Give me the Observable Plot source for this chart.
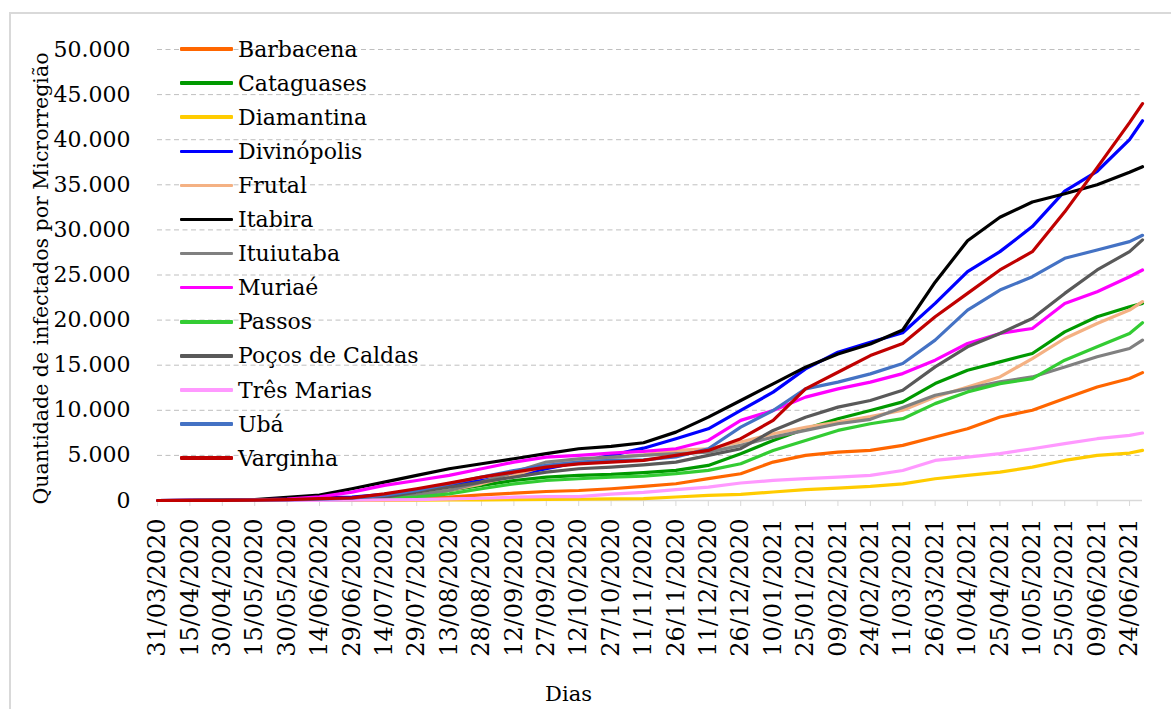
<!DOCTYPE html>
<html>
<head>
<meta charset="utf-8">
<script src="https://cdn.jsdelivr.net/npm/d3@7"></script>
<script src="https://cdn.jsdelivr.net/npm/@observablehq/plot@0.6"></script>
<style>
  html, body { margin: 0; padding: 0; background: #fff; }
  body { width: 1171px; height: 709px; overflow: hidden; font-family: "DejaVu Serif", serif; color: #000; }
  #wrap { position: relative; width: 1171px; height: 709px; }
  #frame { position: absolute; left: 9px; top: 12px; width: 1200px; height: 800px; border-left: 2px solid #D9D9D9; border-top: 2px solid #D9D9D9; box-sizing: border-box; }
  #chart { position: absolute; left: 0; top: 0; }
  #legend { position: absolute; left: 0; top: 0; }
  .item { position: absolute; left: 180px; height: 30px; display: flex; align-items: center; white-space: nowrap; font-size: 22px; }
  .swatch { width: 53px; height: 3.5px; margin-right: 5px; border-radius: 1px; }
</style>
</head>
<body>
<div id="wrap">
  <div id="frame"></div>
  <div id="chart"></div>
  <div id="legend"></div>
</div>
<script>
// ---- data ----
const sampleDates = ["2020-03-31","2020-04-15","2020-04-30","2020-05-15","2020-05-30","2020-06-14","2020-06-29","2020-07-14","2020-07-29","2020-08-13","2020-08-28","2020-09-12","2020-09-27","2020-10-12","2020-10-27","2020-11-11","2020-11-26","2020-12-11","2020-12-26","2021-01-10","2021-01-25","2021-02-09","2021-02-24","2021-03-11","2021-03-26","2021-04-10","2021-04-25","2021-05-10","2021-05-25","2021-06-09","2021-06-24","2021-06-30"];

const seriesNames = ["Barbacena","Cataguases","Diamantina","Divinópolis","Frutal","Itabira","Ituiutaba","Muriaé","Passos","Poços de Caldas","Três Marias","Ubá","Varginha"];
const seriesColors = ["#FF6600","#009900","#FFCC00","#0000FF","#F4B183","#000000","#808080","#FF00FF","#33CC33","#595959","#FF99FF","#4472C4","#C00000"];

const barbacena   = [0,0,0,5,10,30,80,150,250,370,630,810,1000,1110,1300,1560,1860,2420,2970,4260,5000,5370,5550,6110,7040,7960,9260,10000,11300,12590,13520,14180];
const cataguases  = [0,0,5,10,30,60,150,300,560,1110,1670,2220,2590,2780,2890,3100,3340,3890,5190,6660,7950,9060,9980,10930,12960,14440,15370,16300,18700,20370,21480,21850];
const diamantina  = [0,0,0,0,0,5,10,20,40,60,80,100,120,140,170,200,390,570,680,940,1200,1380,1570,1850,2410,2780,3150,3700,4440,5000,5260,5560];
const divinopolis = [0,10,20,50,150,300,370,670,1110,1670,2220,2780,3520,4260,5000,5800,6850,7950,9980,12010,14590,16440,17550,18600,21850,25370,27590,30370,34300,36500,40000,42100];
const frutal      = [0,0,5,10,30,60,150,300,560,1110,1850,2780,3890,4440,4740,5050,5550,5740,6480,7400,8100,8700,9300,10000,11480,12590,13700,15740,17960,19630,21110,22040];
const itabira     = [0,10,40,100,350,600,1300,2040,2780,3520,4070,4630,5190,5740,6000,6400,7580,9240,11090,12930,14780,16250,17360,18900,24200,28800,31400,33100,34000,35000,36400,37000];
const ituiutaba   = [0,0,5,10,30,60,150,300,560,1110,2040,3150,4260,4630,4810,5000,5190,5370,6110,7030,7770,8510,9000,10300,11670,12410,13150,13700,14810,15930,16850,17780];
const muriae      = [0,5,20,60,150,400,930,1670,2220,2780,3520,4260,4810,5000,5250,5450,5740,6660,8880,9980,11460,12380,13120,14070,15560,17410,18520,19070,21850,23150,24810,25550];
const passos      = [0,0,0,5,10,30,80,200,370,740,1300,1850,2220,2410,2590,2700,2970,3340,4080,5550,6660,7770,8510,9070,10740,12040,12960,13520,15560,17040,18520,19700];
const pocos       = [0,0,5,20,50,100,200,370,930,1480,2040,2590,3150,3520,3700,3950,4260,5000,5740,7770,9240,10350,11090,12220,14810,17040,18520,20180,22960,25560,27590,28900];
const tresMarias  = [0,0,0,0,5,10,30,60,100,190,250,370,420,440,700,900,1200,1490,1940,2230,2420,2600,2790,3330,4440,4810,5190,5740,6300,6850,7220,7480];
const uba         = [0,5,15,30,80,150,250,560,1110,1850,2590,3330,3890,4260,4440,4500,4820,5740,8140,9980,12380,13120,14040,15190,17780,21110,23330,24810,26850,27780,28700,29400];
const varginha    = [0,5,15,40,100,200,300,740,1300,1930,2590,3150,3700,4070,4260,4450,5000,5550,6850,8880,12380,14220,16070,17410,20370,22960,25560,27590,32000,36900,41900,44000];

const seriesValues = [barbacena,cataguases,diamantina,divinopolis,frutal,itabira,ituiutaba,muriae,passos,pocos,tresMarias,uba,varginha];

const xTickLabels = ["31/03/2020","15/04/2020","30/04/2020","15/05/2020","30/05/2020","14/06/2020","29/06/2020","14/07/2020","29/07/2020","13/08/2020","28/08/2020","12/09/2020","27/09/2020","12/10/2020","27/10/2020","11/11/2020","26/11/2020","11/12/2020","26/12/2020","10/01/2021","25/01/2021","09/02/2021","24/02/2021","11/03/2021","26/03/2021","10/04/2021","25/04/2021","10/05/2021","25/05/2021","09/06/2021","24/06/2021"];
const yTicks = [0,5000,10000,15000,20000,25000,30000,35000,40000,45000,50000];
const yLabel = "Quantidade de infectados por Microrregião";
const xLabel = "Dias";

// ---- build ----
const parseISO = d3.utcParse("%Y-%m-%d");
const parseTick = d3.utcParse("%d/%m/%Y");
const fmtTick = d3.utcFormat("%d/%m/%Y");
const numFmt = d3.formatLocale({decimal: ",", thousands: ".", grouping: [3], currency: ["", ""]}).format(",");
const dates = sampleDates.map(parseISO);
const tickDates = xTickLabels.map(parseTick);

const FONT = "DejaVu Serif";

const lineMarks = seriesNames.map((name, s) =>
  Plot.line(dates.map((d, i) => ({date: d, value: seriesValues[s][i]})), {
    x: "date", y: "value", stroke: seriesColors[s], strokeWidth: 3.2, strokeLinejoin: "round", strokeLinecap: "round"
  })
);

const chart = Plot.plot({
  width: 1171,
  height: 709,
  marginLeft: 157,
  marginRight: 29,
  marginTop: 49,
  marginBottom: 209,
  style: {fontFamily: FONT, background: "transparent", color: "#000", overflow: "visible"},
  x: {type: "utc", domain: [parseISO("2020-03-31"), parseISO("2021-06-30")]},
  y: {domain: [0, 50000]},
  marks: [
    Plot.gridY(yTicks.filter(v => v > 0), {stroke: "#BFBFBF", strokeOpacity: 1, strokeWidth: 1, strokeDasharray: "5,3.5"}),
    Plot.ruleY([0], {stroke: "#D9D9D9", strokeWidth: 1.5}),
    Plot.axisY({ticks: yTicks, tickSize: 0, tickPadding: 27, tickFormat: numFmt, fontSize: 22, label: null, fill: "#000"}),
    Plot.axisX({ticks: tickDates, tickSize: 6, tickPadding: 12, tickRotate: -90, tickFormat: fmtTick, fontSize: 24, label: null, stroke: "#D9D9D9", fill: "#000"}),
    ...lineMarks,
    Plot.text([yLabel], {frameAnchor: "left", textAnchor: "middle", rotate: -90, dx: -116, dy: 3.5, fontSize: 20.5, lineAnchor: "middle", fill: "#000"}),
    Plot.text([xLabel], {frameAnchor: "bottom", textAnchor: "middle", dx: 568 - 649.5, dy: 194, fontSize: 21, lineAnchor: "middle", fill: "#000"})
  ]
});
document.getElementById("chart").appendChild(chart);

// legend (overlaid inside the plot, top-left, no background)
const legend = document.getElementById("legend");
seriesNames.forEach((name, i) => {
  const item = document.createElement("div");
  item.className = "item";
  item.style.top = (49 + 34.1 * i - 15) + "px";
  const sw = document.createElement("span");
  sw.className = "swatch";
  sw.style.background = seriesColors[i];
  const tx = document.createElement("span");
  tx.textContent = name;
  item.appendChild(sw);
  item.appendChild(tx);
  legend.appendChild(item);
});
</script>
</body>
</html>
